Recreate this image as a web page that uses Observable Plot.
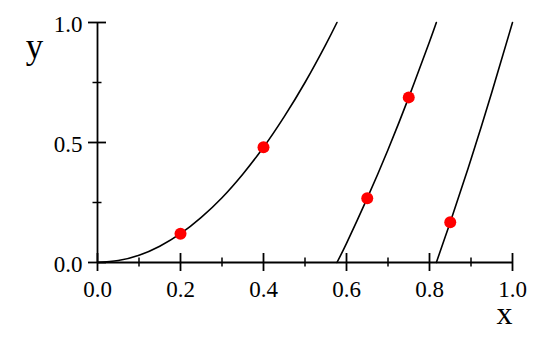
<!DOCTYPE html>
<html><head><meta charset="utf-8">
<script src="https://cdn.jsdelivr.net/npm/d3@7"></script>
<script src="https://cdn.jsdelivr.net/npm/@observablehq/plot@0.6"></script>
<style>body{margin:0;background:#fff} svg text{font-family:"Liberation Serif",serif !important}</style>
</head><body><div id="chart"></div>
<script>
// Curves
const curve1X = [0, 0.05, 0.1, 0.15, 0.2, 0.25, 0.3, 0.35, 0.4, 0.45, 0.5, 0.55, 0.577];
const curve1Y = [0, 0.008, 0.03, 0.068, 0.12, 0.188, 0.27, 0.368, 0.48, 0.608, 0.75, 0.908, 1.0];
const curve2X = [0.577, 0.6, 0.65, 0.7, 0.75, 0.8, 0.8165];
const curve2Y = [0, 0.08, 0.268, 0.47, 0.688, 0.92, 1.0];
const curve3X = [0.8165, 0.85, 0.9, 0.95, 1.0];
const curve3Y = [0, 0.168, 0.43, 0.708, 1.0];
// Red points
const pointsX = [0.2, 0.4, 0.65, 0.75, 0.85];
const pointsY = [0.12, 0.48, 0.268, 0.688, 0.168];
// Ticks
const xMajor = [0, 0.2, 0.4, 0.6, 0.8, 1.0];
const xMinor = [0.1, 0.3, 0.5, 0.7, 0.9];
const yMajor = [0, 0.5, 1.0];
const yMinor = [0.25, 0.75];
const xTitle = "x";
const yTitle = "y";

const curves = [
  ...curve1X.map((x, i) => ({series: 1, x, y: curve1Y[i]})),
  ...curve2X.map((x, i) => ({series: 2, x, y: curve2Y[i]})),
  ...curve3X.map((x, i) => ({series: 3, x, y: curve3Y[i]}))
];
const points = pointsX.map((x, i) => ({x, y: pointsY[i]}));
const serif = "Liberation Serif";
const fmt = d3.format(".1f");

const chart = Plot.plot({
  width: 550,
  height: 337,
  marginLeft: 97,
  marginRight: 38,
  marginTop: 22,
  marginBottom: 75,
  style: {fontFamily: serif, background: "#fff", color: "#000"},
  x: {domain: [0, 1], axis: null},
  y: {domain: [0, 1], axis: null},
  marks: [
    Plot.text(xMajor, {x: d => d, y: 0, text: d => fmt(d), dy: 27, fontSize: 23, fontFamily: serif, textAnchor: "middle", fill: "#000"}),
    Plot.text(yMajor, {x: 0, y: d => d, text: d => fmt(d), dx: -15, dy: 2, fontSize: 23, fontFamily: serif, textAnchor: "end", fill: "#000"}),
    Plot.ruleY([0], {stroke: "#000", strokeWidth: 1.8}),
    Plot.ruleX([0], {stroke: "#000", strokeWidth: 1.8}),
    Plot.ruleX(xMajor, {x: d => d, y1: 0, y2: 0, insetTop: -9, insetBottom: -9, stroke: "#000", strokeWidth: 1.8}),
    Plot.ruleX(xMinor, {x: d => d, y1: 0, y2: 0, insetTop: -4.5, insetBottom: -4.5, stroke: "#000", strokeWidth: 1.5}),
    Plot.ruleY(yMajor, {y: d => d, x1: 0, x2: 0, insetLeft: -9, insetRight: -9, stroke: "#000", strokeWidth: 1.8}),
    Plot.ruleY(yMinor, {y: d => d, x1: 0, x2: 0, insetLeft: -4.5, insetRight: -4.5, stroke: "#000", strokeWidth: 1.5}),
    Plot.line(curves, {x: "x", y: "y", z: "series", curve: "natural", stroke: "#000", strokeWidth: 1.6}),
    Plot.dot(points, {x: "x", y: "y", r: 6, fill: "#ff0000", stroke: "none"}),
    Plot.text([yTitle], {frameAnchor: "top-left", text: d => d, dx: -63, dy: 11, fontSize: 35, fontFamily: serif, textAnchor: "middle", fill: "#000"}),
    Plot.text([xTitle], {frameAnchor: "bottom-right", text: d => d, dx: 0, dy: 61, fontSize: 32, fontFamily: serif, textAnchor: "end", fill: "#000"})
  ]
});
document.getElementById("chart").appendChild(chart);
</script>
</body></html>
